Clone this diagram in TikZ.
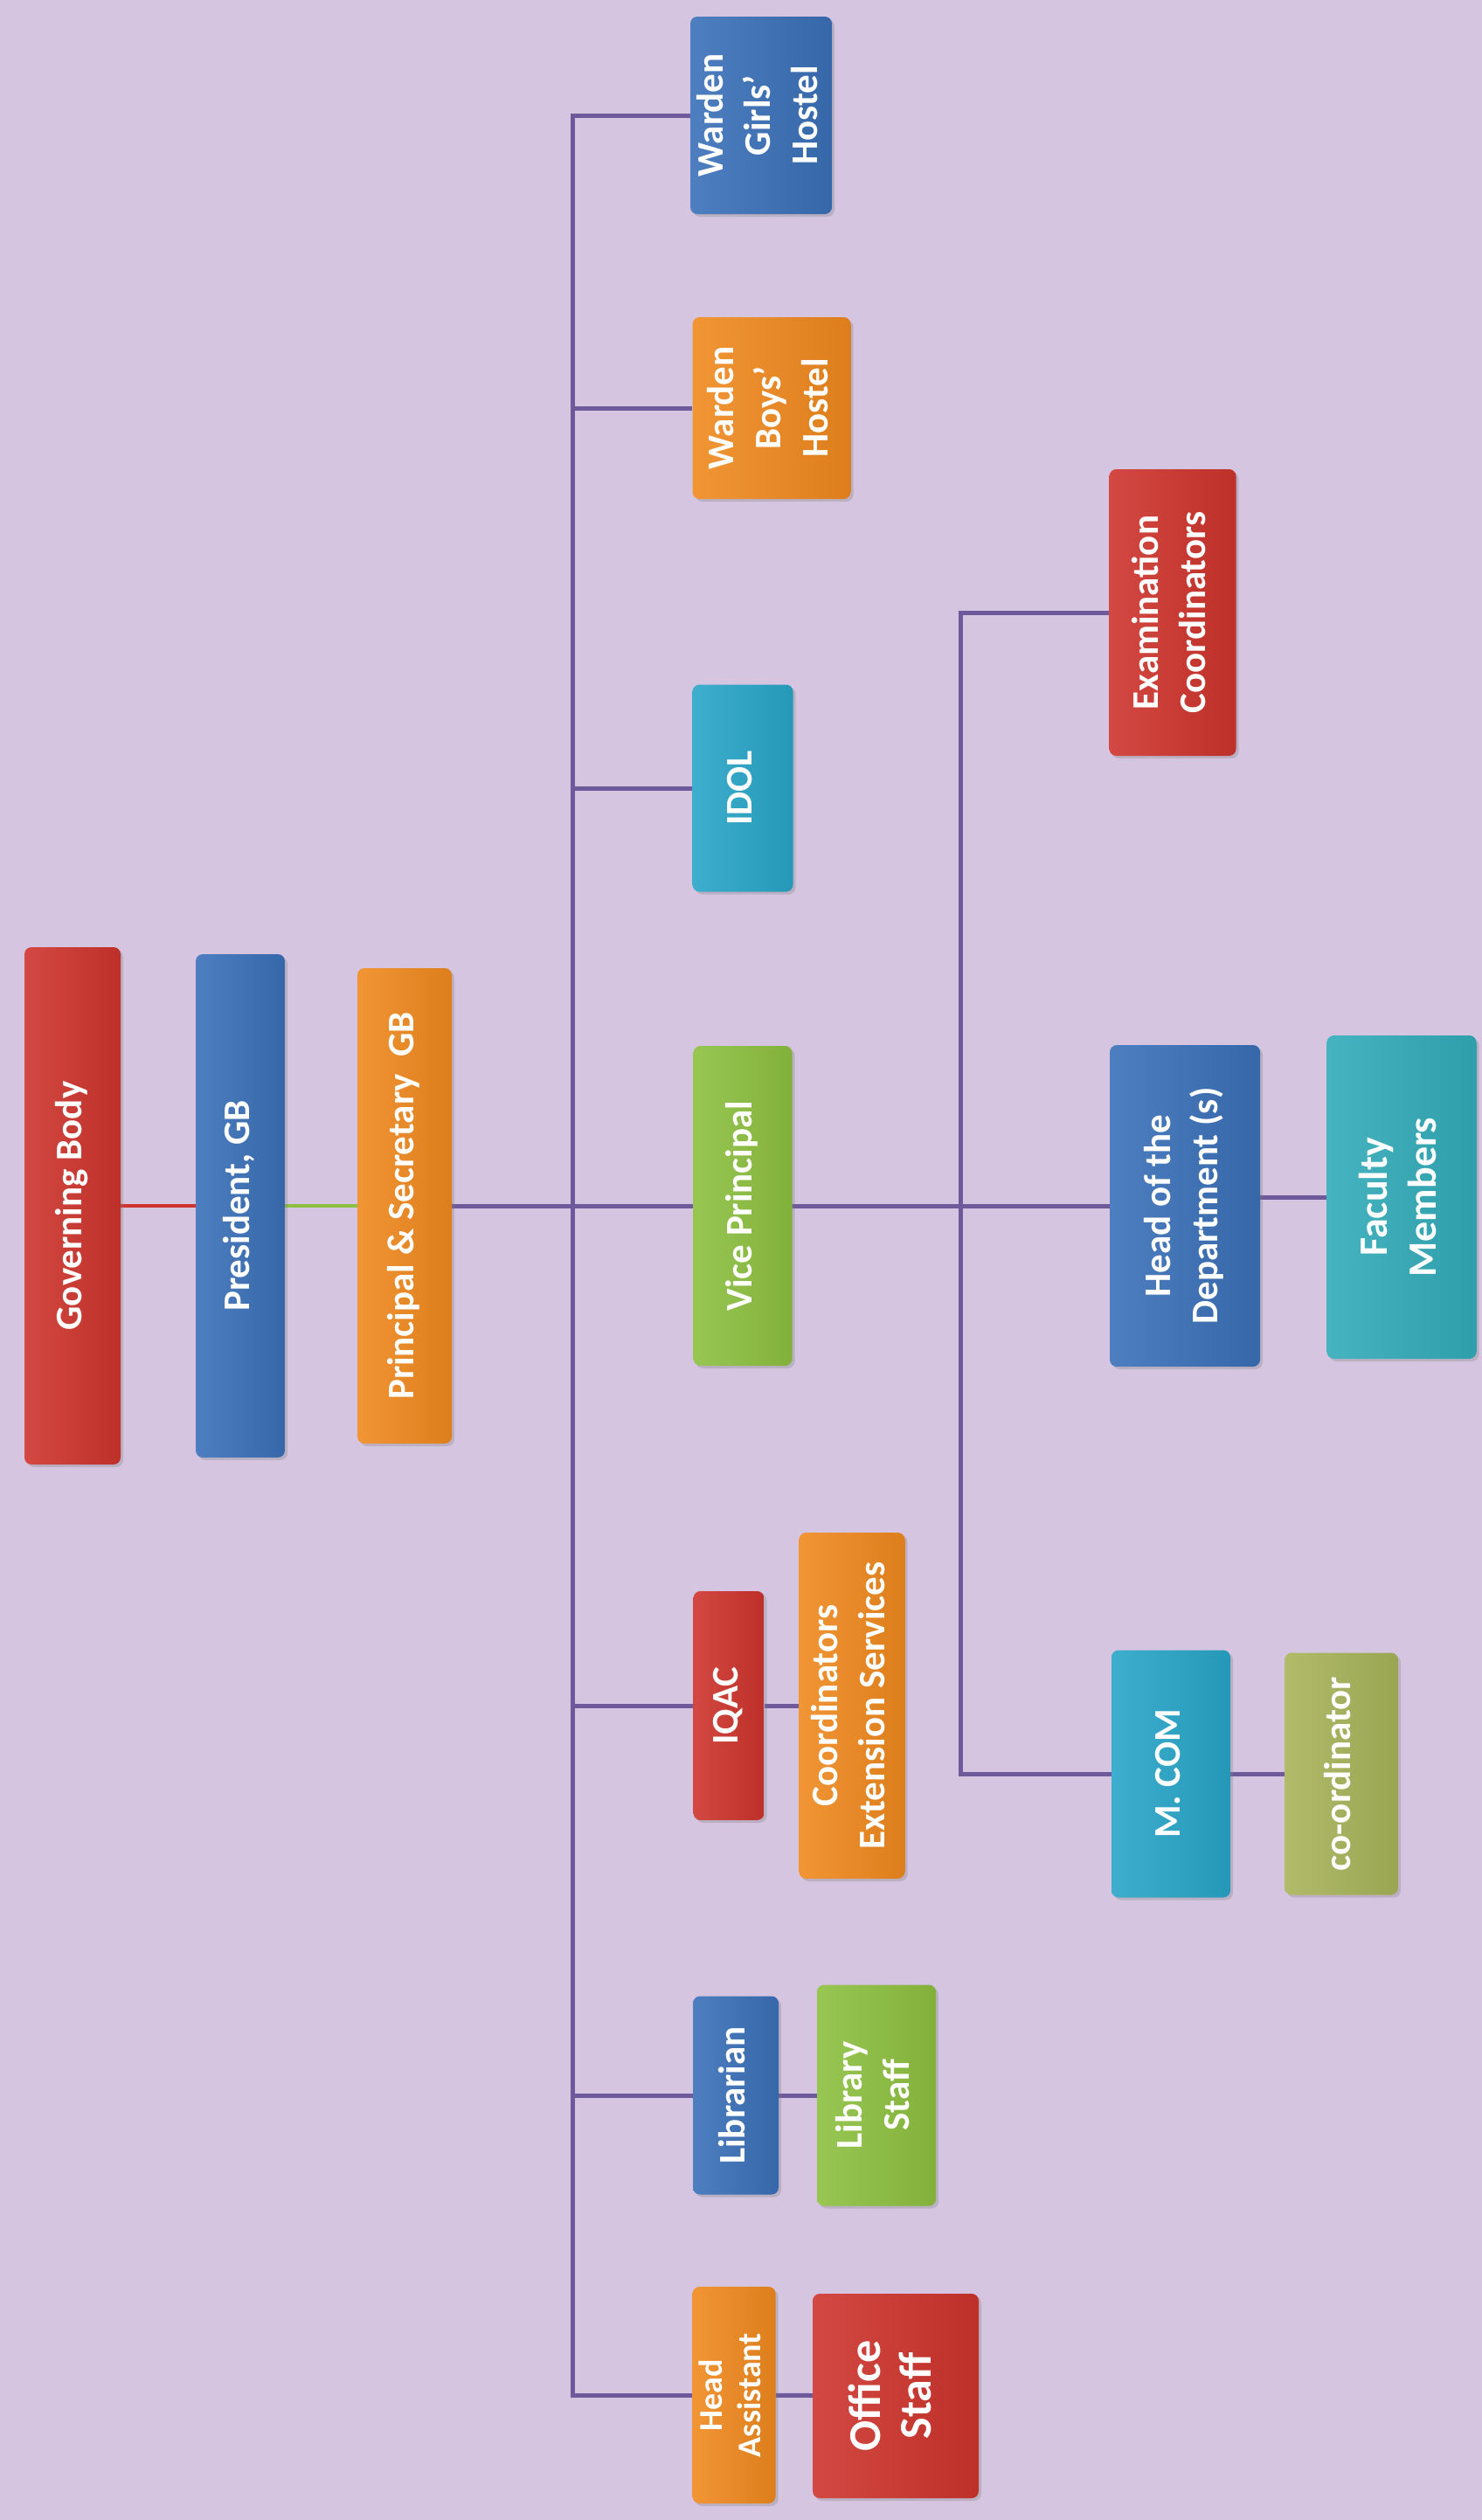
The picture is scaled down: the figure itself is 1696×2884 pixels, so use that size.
\documentclass[tikz,border=0pt]{standalone}
\usepackage{fontspec}
\usepackage{graphicx}
\setmainfont{Carlito}
\usetikzlibrary{backgrounds, shadows}

\definecolor{fon}{RGB}{213,197,224}
\definecolor{cred}{RGB}{206,52,45}
\definecolor{cblue}{RGB}{58,112,184}
\definecolor{corange}{RGB}{240,137,30}
\definecolor{cgreen}{RGB}{141,192,64}
\definecolor{ccyan}{RGB}{40,165,200}
\definecolor{cteal}{RGB}{50,172,185}
\definecolor{colive}{RGB}{168,180,90}
\definecolor{cline}{RGB}{110,90,155}

\newcommand{\vt}[1]{\rotatebox{90}{\begin{tabular}{@{}c@{}}#1\end{tabular}}}

\begin{document}
\begin{tikzpicture}[x=1pt, y=-1pt,
    box/.style={rounded corners=8pt, inner sep=0pt, text=white,
        font=\fontsize{43}{54}\selectfont\bfseries,
        drop shadow={shadow xshift=3pt, shadow yshift=-3pt, opacity=0.3}},
    sz/.style 2 args={minimum width=#1pt, minimum height=#2pt},
    clr/.style={left color=#1!90!white, right color=#1!92!black},
    lnk/.style={draw=cline, line width=5pt}]
				% Точки стволов
				\coordinate (trunk) at (655,1380);
				\coordinate (sub) at (1099,1380);
				
				% Верхний ряд
				\node[box, clr=cred, sz={110}{592}] (gb) at (83,1380) {\vt{Governing Body}};
				\node[box, clr=cblue, sz={102}{576}] (pres) at (275,1380) {\vt{President, GB}};
				\node[box, clr=corange, sz={108}{544}] (prin) at (463,1380) {\vt{Principal \& Secretary~ GB}};
				
				% Средний ряд
				\node[box, clr=cblue, sz={158}{226}] (wg) at (871,132) {\vt{Warden\\Girls'\\Hostel}};
				\node[box, clr=corange, sz={181}{208}] (wb) at (883,467) {\vt{Warden\\Boys'\\Hostel}};
				\node[box, clr=ccyan, sz={115}{237}] (idol) at (850,902) {\vt{IDOL}};
				\node[box, clr=cgreen, sz={113}{366}] (vp) at (850,1380) {\vt{Vice Principal}};
				\node[box, clr=cred, sz={81}{262}] (iqac) at (834,1952) {\vt{IQAC}};
				\node[box, clr=corange, sz={121}{396}] (ces) at (975,1952) {\vt{Coordinators\\Extension Services}};
				\node[box, clr=cblue, sz={98}{227}] (lib) at (842,2398) {\vt{Librarian}};
				\node[box, clr=cgreen, sz={136}{253}] (ls) at (1003,2398) {\vt{Library\\Staff}};
				\node[box, clr=corange, sz={95}{248}, font=\fontsize{38}{44}\selectfont\bfseries] (ha) at (840,2741) {\vt{Head\\Assistant}};
				\node[box, clr=cred, sz={190}{234}, font=\fontsize{52}{58}\selectfont\bfseries] (os) at (1025,2742) {\vt{Office\\Staff}};
				
				% Правый ряд
				\node[box, clr=cred, sz={145}{328}] (ec) at (1342,701) {\vt{Examination\\Coordinators}};
				\node[box, clr=cblue, sz={172}{368}] (hod) at (1356,1380) {\vt{Head of the\\Department (s)}};
				\node[box, clr=cteal, sz={171}{370}, font=\fontsize{46}{56}\selectfont\bfseries] (fac) at (1604,1370) {\vt{Faculty\\Members}};
				\node[box, clr=ccyan, sz={136}{283}] (mcom) at (1340,2030) {\vt{M. COM}};
				\node[box, clr=colive, sz={130}{277}] (cord) at (1535,2030) {\vt{co-ordinator}};
				
				% Фон и линии
				\begin{scope}[on background layer]
				\fill[fon] (0,0) rectangle (1696,2884);
				\draw[draw=cred, line width=4pt] (gb) -- (pres);
				\draw[draw=cgreen, line width=4pt] (pres) -- (prin);
				\draw[lnk] (prin) -- (hod);
				\draw[lnk] (wg) -| (trunk |- ha) -- (ha);
				\foreach \n in {wb, idol, iqac, lib}
					\draw[lnk] (\n) -- (trunk |- \n);
				\draw[lnk] (ec) -| (sub |- mcom) -- (mcom);
				\draw[lnk] (iqac) -- (ces);
				\draw[lnk] (lib) -- (ls);
				\draw[lnk] (ha) -- (os);
				\draw[lnk] (fac.west) -- (fac.west -| hod.east);
				\draw[lnk] (mcom) -- (cord);
				\end{scope}
			\end{tikzpicture}
\end{document}
